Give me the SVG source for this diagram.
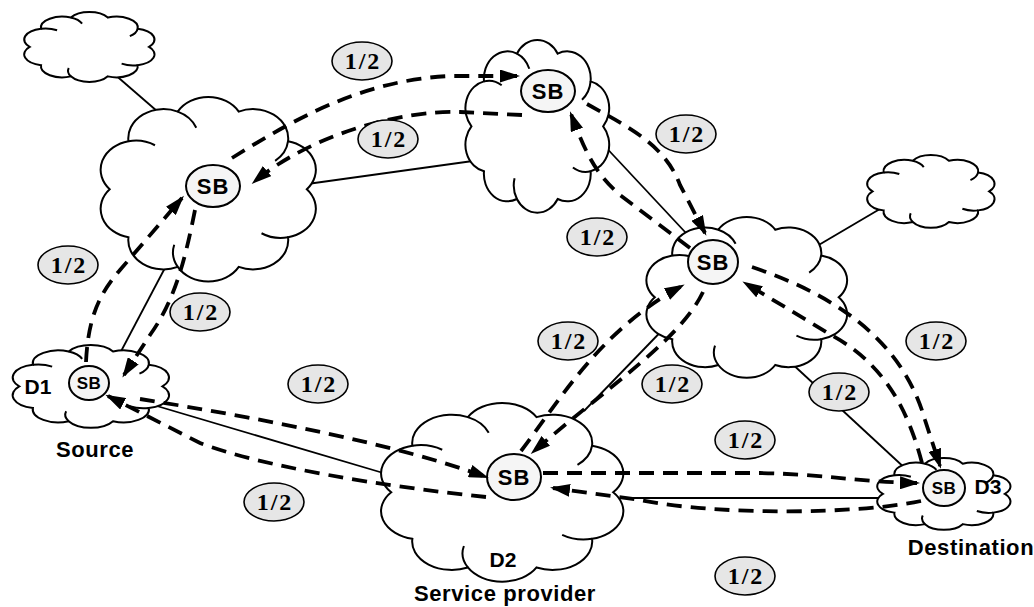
<svg xmlns="http://www.w3.org/2000/svg" xmlns:xlink="http://www.w3.org/1999/xlink" width="1034" height="607" viewBox="0 0 1034 607">
<style>
.cloud{fill:#fff;stroke:#000;stroke-width:2;vector-effect:non-scaling-stroke}
.curl{fill:none;stroke:#000;stroke-width:2;vector-effect:non-scaling-stroke}
.link{stroke:#000;stroke-width:1.8;fill:none}
.flow{fill:none;stroke:#000;stroke-width:3.8;stroke-dasharray:15 9;marker-end:url(#ah)}
.sb{fill:#f5f5f5;stroke:#000;stroke-width:2}
.sbt{font-family:"Liberation Sans",Arial,sans-serif;font-weight:bold;font-size:22px;letter-spacing:1px;text-anchor:middle}
.sbs{font-family:"Liberation Sans",Arial,sans-serif;font-weight:bold;font-size:17px;letter-spacing:0.5px;text-anchor:middle}
.dn{font-family:"Liberation Sans",Arial,sans-serif;font-weight:bold;font-size:21px;text-anchor:middle}
.cap{font-family:"Liberation Sans",Arial,sans-serif;font-weight:bold;font-size:22px;letter-spacing:0.6px;text-anchor:middle}
.lab{fill:#e6e6e6;stroke:#000;stroke-width:1.6}
.labt{font-family:"Liberation Serif","Times New Roman",serif;font-weight:bold;font-size:24px;letter-spacing:2px;text-anchor:middle}
</style>
<defs>
<marker id="ah" viewBox="0 0 20 13" refX="17" refY="6.5" markerWidth="20" markerHeight="13" markerUnits="userSpaceOnUse" orient="auto">
<path d="M0,0 L20,6.5 L0,13 z" fill="#000"/>
</marker>
<g id="cloudshape">
<path class="cloud" d="M8,50 A15,15 0 0 1 16,25.3 A15,15 0 0 1 37,10.1 A15,15 0 0 1 63,10.1 A15,15 0 0 1 84,25.3 A15,15 0 0 1 92,50 A15,15 0 0 1 84,74.7 A15,15 0 0 1 63,89.9 A15,15 0 0 1 37,89.9 A15,15 0 0 1 16,74.7 A15,15 0 0 1 8,50 Z"/>
<path class="curl" d="M37,10.1 A15,15 0 0 1 44.9,18.4 M84,25.3 A15,15 0 0 1 78.5,35.4 M84,74.7 A15,15 0 0 1 72.7,72.6 M37,89.9 A15,15 0 0 1 35.5,78.5 M16,25.3 A15,15 0 0 1 27.3,27.4"/>
</g>
</defs>
<rect width="1034" height="607" fill="#fff"/>

<g id="links">
<line class="link" x1="105" y1="66" x2="180" y2="131"/>
<line class="link" x1="300" y1="185" x2="480" y2="160"/>
<line class="link" x1="600" y1="141" x2="700" y2="248"/>
<line class="link" x1="885" y1="206" x2="800" y2="256"/>
<line class="link" x1="166" y1="266" x2="118" y2="357"/>
<line class="link" x1="140" y1="401" x2="390" y2="475"/>
<line class="link" x1="678" y1="314" x2="584" y2="411"/>
<line class="link" x1="788" y1="360" x2="908" y2="471"/>
<line class="link" x1="620" y1="498" x2="890" y2="498"/>
</g>

<g id="cloud-tl"><use xlink:href="#cloudshape" transform="translate(18.3,10.1) scale(1.421,0.737)"/></g>
<g id="cloud-tr"><use xlink:href="#cloudshape" transform="translate(861.4,153) scale(1.389,0.768)"/></g>
<g id="node-a">
<use xlink:href="#cloudshape" transform="translate(90.9,91.9) scale(2.347,1.947)"/>
<ellipse class="sb" cx="213" cy="186" rx="27" ry="21"/>
<text class="sbt" x="213" y="194">SB</text>
</g>
<g id="node-b">
<use xlink:href="#cloudshape" transform="translate(458.9,35.3) scale(1.568,1.821)"/>
<ellipse class="sb" cx="548" cy="91" rx="27" ry="21"/>
<text class="sbt" x="548" y="99">SB</text>
</g>
<g id="node-c">
<use xlink:href="#cloudshape" transform="translate(637.3,212.6) scale(2.189,1.695)"/>
<ellipse class="sb" cx="713" cy="262" rx="25" ry="22"/>
<text class="sbt" x="713" y="270">SB</text>
</g>
<g id="node-d1">
<use xlink:href="#cloudshape" transform="translate(5.6,342.7) scale(1.705,0.874)"/>
<ellipse class="sb" cx="89" cy="383" rx="20" ry="17"/>
<text class="sbs" x="89" y="389">SB</text>
<text class="dn" x="38" y="394">D1</text>
</g>
<g id="node-d2">
<use xlink:href="#cloudshape" transform="translate(370.1,398.1) scale(2.642,1.884)"/>
<ellipse class="sb" cx="514" cy="477" rx="27" ry="23"/>
<text class="sbt" x="514" y="485">SB</text>
<text class="dn" x="503" y="567">D2</text>
</g>
<g id="node-d3">
<use xlink:href="#cloudshape" transform="translate(871.2,456) scale(1.453,0.758)"/>
<ellipse class="sb" cx="944" cy="488" rx="21" ry="18"/>
<text class="sbs" x="944" y="494">SB</text>
<text class="dn" x="988" y="494">D3</text>
</g>

<g id="flows">
<path class="flow" d="M232,158 C290,122 360,80 450,76 L517,76"/>
<path class="flow" d="M522,115 L460,112 C400,110 310,135 254,182"/>
<path class="flow" d="M587,104 C630,128 665,145 680,185 L705,233"/>
<path class="flow" d="M690,248 L620,195 C598,175 588,160 571,114"/>
<path class="flow" d="M752,267 C850,300 905,350 925,420 L940,466"/>
<path class="flow" d="M922,463 C908,410 885,365 833,336 L745,283"/>
<path class="flow" d="M521,451 C560,400 600,330 682,286"/>
<path class="flow" d="M703,292 C680,340 610,385 533,452"/>
<path class="flow" d="M86,362 C88,320 98,295 120,270 L182,198"/>
<path class="flow" d="M195,210 C185,260 175,300 150,335 L124,375"/>
<path class="flow" d="M140,399 C260,418 400,445 486,477"/>
<path class="flow" d="M486,497 C380,486 260,466 200,443 L108,396"/>
<path class="flow" d="M543,473 L760,473 C820,474 860,482 917,483"/>
<path class="flow" d="M921,501 C860,514 720,516 640,500 L553,488"/>
</g>

<g id="labels">
<ellipse class="lab" cx="362" cy="61" rx="30" ry="19"/><text class="labt" x="363" y="69">1/2</text>
<ellipse class="lab" cx="388" cy="139" rx="30" ry="19"/><text class="labt" x="389" y="147">1/2</text>
<ellipse class="lab" cx="597" cy="237" rx="30" ry="19"/><text class="labt" x="598" y="245">1/2</text>
<ellipse class="lab" cx="686" cy="134" rx="30" ry="19"/><text class="labt" x="687" y="142">1/2</text>
<ellipse class="lab" cx="936" cy="341" rx="30" ry="19"/><text class="labt" x="937" y="349">1/2</text>
<ellipse class="lab" cx="839" cy="392" rx="30" ry="19"/><text class="labt" x="840" y="400">1/2</text>
<ellipse class="lab" cx="672" cy="384" rx="30" ry="19"/><text class="labt" x="673" y="392">1/2</text>
<ellipse class="lab" cx="568" cy="341" rx="30" ry="19"/><text class="labt" x="569" y="349">1/2</text>
<ellipse class="lab" cx="200" cy="312" rx="30" ry="19"/><text class="labt" x="201" y="320">1/2</text>
<ellipse class="lab" cx="68" cy="265" rx="30" ry="19"/><text class="labt" x="69" y="273">1/2</text>
<ellipse class="lab" cx="318" cy="384" rx="30" ry="19"/><text class="labt" x="319" y="392">1/2</text>
<ellipse class="lab" cx="274" cy="502" rx="30" ry="19"/><text class="labt" x="275" y="510">1/2</text>
<ellipse class="lab" cx="745" cy="440" rx="30" ry="19"/><text class="labt" x="746" y="448">1/2</text>
<ellipse class="lab" cx="745" cy="576" rx="30" ry="19"/><text class="labt" x="746" y="584">1/2</text>
</g>

<g id="captions">
<text class="cap" x="95" y="457">Source</text>
<text class="cap" x="505" y="601">Service provider</text>
<text class="cap" x="971" y="555">Destination</text>
</g>
</svg>
